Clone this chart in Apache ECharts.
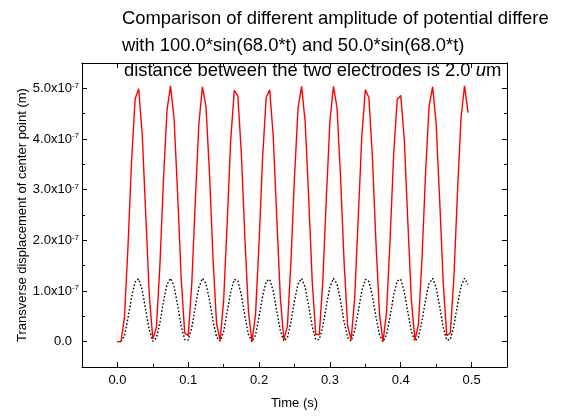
<!DOCTYPE html>
<html><head><meta charset="utf-8">
<script src="https://cdn.jsdelivr.net/npm/echarts@6/dist/echarts.min.js"></script>
<style>html,body{margin:0;padding:0;background:#fff}#c{width:571px;height:417px}</style>
</head><body><div id="c"></div>
<script>
// time samples (s)
const times = [
 0, 0.005, 0.01, 0.015, 0.02, 0.025, 0.03, 0.035, 0.04, 0.045,
 0.05, 0.055, 0.06, 0.065, 0.07, 0.075, 0.08, 0.085, 0.09, 0.095,
 0.1, 0.105, 0.11, 0.115, 0.12, 0.125, 0.13, 0.135, 0.14, 0.145,
 0.15, 0.155, 0.16, 0.165, 0.17, 0.175, 0.18, 0.185, 0.19, 0.195,
 0.2, 0.205, 0.21, 0.215, 0.22, 0.225, 0.23, 0.235, 0.24, 0.245,
 0.25, 0.255, 0.26, 0.265, 0.27, 0.275, 0.28, 0.285, 0.29, 0.295,
 0.3, 0.305, 0.31, 0.315, 0.32, 0.325, 0.33, 0.335, 0.34, 0.345,
 0.35, 0.355, 0.36, 0.365, 0.37, 0.375, 0.38, 0.385, 0.39, 0.395,
 0.4, 0.405, 0.41, 0.415, 0.42, 0.425, 0.43, 0.435, 0.44, 0.445,
 0.45, 0.455, 0.46, 0.465, 0.47, 0.475, 0.48, 0.485, 0.49, 0.495
];
// displacement, units of 1e-7 m, for 100.0*sin(68.0*t)
const disp100 = [
 0, 0, 0.49, 1.90, 3.57, 4.79, 4.99, 4.10, 2.51, 0.92,
 0.05, 0.28, 1.51, 3.19, 4.57, 5.05, 4.40, 2.92, 1.26, 0.17,
 0.12, 1.15, 2.78, 4.30, 5.03, 4.65, 3.32, 1.64, 0.35, 0.03,
 0.82, 2.37, 3.99, 4.96, 4.85, 3.71, 2.03, 0.59, 0.00, 0.54,
 1.96, 3.64, 4.82, 4.97, 4.05, 2.44, 0.87, 0.04, 0.31, 1.58,
 3.25, 4.61, 5.04, 4.35, 2.86, 1.20, 0.14, 0.14, 1.20, 2.85,
 4.35, 5.04, 4.62, 3.25, 1.58, 0.31, 0.04, 0.87, 2.44, 4.05,
 4.97, 4.82, 3.64, 1.96, 0.55, 0.00, 0.59, 2.03, 3.70, 4.78,
 4.86, 3.99, 2.37, 0.82, 0.03, 0.34, 1.64, 3.32, 4.65, 5.03,
 4.30, 2.78, 1.15, 0.12, 0.17, 1.26, 2.92, 4.40, 5.05, 4.52
];
// displacement, units of 1e-7 m, for 50.0*sin(68.0*t)
const disp50 = [
 0, 0, 0.12, 0.47, 0.88, 1.18, 1.24, 1.02, 0.62, 0.23,
 0.01, 0.07, 0.37, 0.79, 1.13, 1.25, 1.09, 0.72, 0.31, 0.04,
 0.03, 0.28, 0.69, 1.07, 1.25, 1.15, 0.82, 0.41, 0.09, 0.01,
 0.20, 0.59, 0.99, 1.23, 1.20, 0.92, 0.50, 0.14, 0.00, 0.13,
 0.49, 0.90, 1.19, 1.23, 1.00, 0.60, 0.22, 0.01, 0.08, 0.39,
 0.81, 1.14, 1.25, 1.08, 0.71, 0.30, 0.04, 0.04, 0.30, 0.71,
 1.08, 1.25, 1.14, 0.81, 0.39, 0.08, 0.01, 0.22, 0.60, 1.00,
 1.23, 1.19, 0.90, 0.49, 0.13, 0.00, 0.14, 0.50, 0.92, 1.20,
 1.23, 0.99, 0.59, 0.20, 0.01, 0.09, 0.41, 0.82, 1.15, 1.25,
 1.07, 0.69, 0.28, 0.03, 0.04, 0.31, 0.72, 1.09, 1.25, 1.13
];
const xMajorTicks = [0, 0.1, 0.2, 0.3, 0.4, 0.5];
const xMinorTicks = [0.05, 0.15, 0.25, 0.35, 0.45];
const yMajorTicks = [0, 1, 2, 3, 4, 5];
const yMinorTicks = [0.5, 1.5, 2.5, 3.5, 4.5];
const titleLines = [
 'Comparison of different amplitude of potential differe',
 'with 100.0*sin(68.0*t) and 50.0*sin(68.0*t)',
 'distance between the two electrodes is 2.0 {i|u}m'
];
const xName = 'Time (s)';
const yName = 'Transverse displacement of center point (m)';

const FONT = '"Liberation Sans", Arial, sans-serif';
const X_MIN = -0.05, X_MAX = 0.55, Y_MIN = -0.5, Y_MAX = 5.5;

const chart = echarts.init(document.getElementById('c'), null, {renderer: 'canvas'});

function pair(xs, ys) { return xs.map((t, i) => [t, ys[i]]); }

function xAx(pos, ticks, len, showLine, opts) {
  return Object.assign({
    type: 'value', gridIndex: 0, position: pos, min: X_MIN, max: X_MAX,
    axisLine: {show: showLine, onZero: false, lineStyle: {color: '#000', width: 1}},
    axisTick: {show: true, inside: true, length: len, customValues: ticks, lineStyle: {color: '#000', width: 1}},
    axisLabel: {show: false},
    splitLine: {show: false}
  }, opts || {});
}
function yAx(pos, ticks, len, showLine, opts) {
  return Object.assign({
    type: 'value', gridIndex: 0, position: pos, min: Y_MIN, max: Y_MAX,
    axisLine: {show: showLine, onZero: false, lineStyle: {color: '#000', width: 1}},
    axisTick: {show: true, inside: true, length: len, customValues: ticks, lineStyle: {color: '#000', width: 1}},
    axisLabel: {show: false},
    splitLine: {show: false}
  }, opts || {});
}

const TF = '18.4px ' + FONT;
const option = {
  animation: false,
  backgroundColor: '#fff',
  grid: {left: 82, right: 64, top: 63, bottom: 50, containLabel: false, outerBoundsMode: 'none'},
  graphic: [
    {type: 'text', left: 122, top: 10, style: {text: titleLines[0], font: TF, fill: '#000'}},
    {type: 'text', left: 122, top: 37, style: {text: titleLines[1], font: TF, fill: '#000'}},
    {type: 'text', left: 124, top: 62, style: {text: titleLines[2], font: TF, fill: '#000',
      rich: {i: {fontStyle: 'italic', fontSize: 18.4, fontFamily: FONT, fill: '#000'}}}}
  ],
  xAxis: [
    xAx('bottom', xMajorTicks, 5, true, {
      name: xName, nameLocation: 'middle', nameGap: 30, nameMoveOverlap: false,
      nameTextStyle: {fontSize: 13, fontFamily: FONT, color: '#000'},
      axisLabel: {show: true, customValues: xMajorTicks, margin: 7, fontSize: 13, fontFamily: FONT, color: '#000',
        formatter: v => v.toFixed(1)}
    }),
    xAx('bottom', xMinorTicks, 3, false),
    xAx('top', xMajorTicks, 5, true),
    xAx('top', xMinorTicks, 3, false)
  ],
  yAxis: [
    yAx('left', yMajorTicks, 5, true, {
      name: yName, nameLocation: 'middle', nameGap: 53, nameMoveOverlap: false,
      nameTextStyle: {fontSize: 13, fontFamily: FONT, color: '#000'},
      axisLabel: {show: true, customValues: yMajorTicks, margin: 3, color: '#000',
        formatter: v => v === 0 ? '{m|0.0}{p|\u00a0}' : '{m|' + v.toFixed(1) + 'x10}{s|-7}',
        rich: {
          m: {fontSize: 13, fontFamily: FONT, color: '#000', lineHeight: 14},
          s: {fontSize: 8, fontFamily: FONT, color: '#000', verticalAlign: 'top', lineHeight: 8},
          p: {width: 7, fontSize: 8}
        }}
    }),
    yAx('left', yMinorTicks, 3, false),
    yAx('right', yMajorTicks, 5, true),
    yAx('right', yMinorTicks, 3, false)
  ],
  series: [
    {type: 'line', xAxisIndex: 0, yAxisIndex: 0, data: pair(times, disp50), showSymbol: false,
      lineStyle: {color: '#000', width: 1.4, type: [1.6, 2]}, z: 2},
    {type: 'line', xAxisIndex: 0, yAxisIndex: 0, data: pair(times, disp100), showSymbol: false,
      lineStyle: {color: '#ff0000', width: 1.4}, z: 3}
  ]
};
chart.setOption(option);
</script>
</body></html>
